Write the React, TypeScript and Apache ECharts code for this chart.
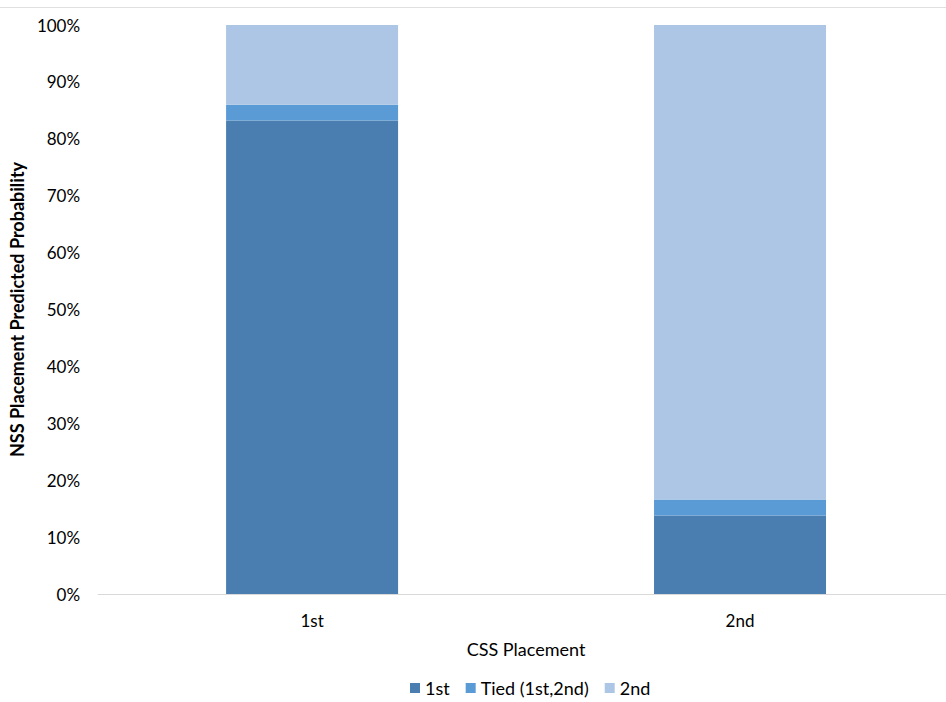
import React, { useEffect, useRef } from "react";
import * as echarts from "echarts";

const categories = ["1st", "2nd"];
const first = [83.2, 13.8];
const tied = [2.8, 2.8];
const second = [14.0, 83.4];
const seriesNames = ["1st", "Tied (1st,2nd)", "2nd"];
const colors = ["#4a7eb0", "#5b9bd5", "#adc6e5"];

const FONT = "Lato";

export default function App() {
  const ref = useRef<HTMLDivElement>(null);
  useEffect(() => {
    if (!ref.current) return;
    const chart = echarts.init(ref.current, undefined, { renderer: "svg" });
    const data = [first, tied, second];
    chart.setOption({
      animation: false,
      backgroundColor: "#ffffff",
      textStyle: { fontFamily: FONT, color: "#404040" },
      grid: { left: 96, right: 1, top: 25, bottom: 108 },
      graphic: [
        {
          type: "line",
          shape: { x1: 0, y1: 7.5, x2: 946, y2: 7.5 },
          style: { stroke: "#e0e0e0", lineWidth: 1 },
        },
      ],
      legend: {
        bottom: 0,
        left: 405,
        itemWidth: 10,
        itemHeight: 10,
        itemGap: 16,
        icon: "rect",
        textStyle: { fontFamily: FONT, fontSize: 18, color: "#000" },
        data: seriesNames,
      },
      xAxis: {
        type: "category",
        data: categories,
        name: "CSS Placement",
        nameLocation: "middle",
        nameGap: 46,
        nameTextStyle: { fontFamily: FONT, fontSize: 18, color: "#000" },
        axisLine: { lineStyle: { color: "#d9d9d9", width: 1 } },
        axisTick: { show: false },
        axisLabel: { fontFamily: FONT, fontSize: 17, color: "#000", margin: 18 },
      },
      yAxis: {
        type: "value",
        min: 0,
        max: 100,
        interval: 10,
        name: "NSS Placement Predicted Probability",
        nameLocation: "middle",
        nameGap: 66,
        nameTextStyle: { fontFamily: FONT, fontSize: 18, fontWeight: "bold", color: "#000" },
        axisLine: { show: false },
        axisTick: { show: false },
        splitLine: { show: false },
        axisLabel: {
          fontFamily: FONT,
          fontSize: 17,
          color: "#000",
          margin: 18,
          formatter: (v: number) => `${v}%`,
        },
      },
      series: seriesNames.map((name, i) => ({
        name,
        type: "bar",
        stack: "total",
        barWidth: 172,
        itemStyle: { color: colors[i] },
        data: data[i],
      })),
    });
    return () => chart.dispose();
  }, []);
  return (
    <div
      style={{
        position: "fixed",
        top: 0,
        left: 0,
        width: 946,
        height: 702,
        overflow: "hidden",
        background: "#fff",
      }}
    >
      <div ref={ref} style={{ width: 955, height: 702 }} />
    </div>
  );
}
